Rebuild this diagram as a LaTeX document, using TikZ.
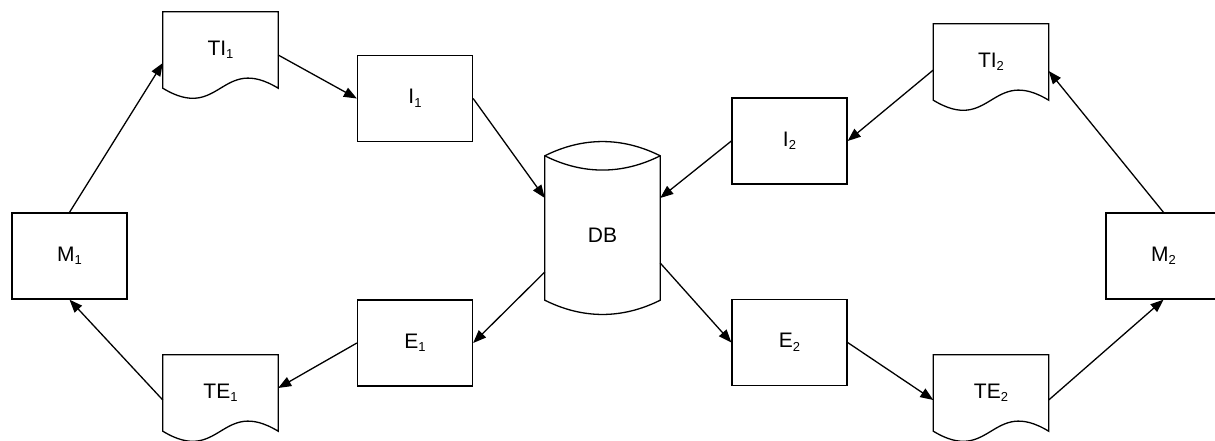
\documentclass[tikz,border=0pt]{standalone}
\usepackage{fontspec}
\setmainfont{Liberation Sans}
\usetikzlibrary{arrows.meta,calc}
\newcommand\sbs[1]{\raisebox{-3.5pt}{\fontsize{13}{14}\selectfont #1}}
\newcommand\docoutline[1]{%
  \draw[outline] (#1.south west) -- (#1.north west) -- (#1.north east) -- (#1.south east)
    .. controls ($(#1.south)+(0,-35)$) and ($(#1.south)+(0,35)$) .. (#1.south west) -- cycle;}
\begin{document}
\begin{tikzpicture}[x=1pt,y=-1pt,
  lbl/.style={font=\fontsize{21}{24}\selectfont},
  box/.style={lbl, draw, line width=1.3pt, minimum width=115pt, minimum height=86pt, inner sep=0pt},
  docbox/.style={lbl, minimum width=115pt, minimum height=76pt, inner sep=0pt},
  cylbox/.style={minimum width=115pt, minimum height=144pt, inner sep=0pt},
  conn/.style={line width=1.3pt, -{Triangle[length=13pt,width=10pt]}},
  outline/.style={line width=1.3pt, line join=miter}]
\useasboundingbox (0,0) rectangle (1215,440);
\clip (0,0) rectangle (1215,440);

% nodes
\node[box] (M1) at (69.5,256) {M\sbs{1}};
\node[docbox] (TI1) at (220.5,50) {TI\sbs{1}};
\node[box] (I1) at (415,98.5) {I\sbs{1}};
\node[box] (E1) at (415,343) {E\sbs{1}};
\node[docbox] (TE1) at (220.5,393) {TE\sbs{1}};
\node[cylbox, label={[lbl, yshift=-7pt]center:DB}] (DB) at (602.5,228) {};
\node[box] (I2) at (789.5,141) {I\sbs{2}};
\node[box] (E2) at (789.5,342.5) {E\sbs{2}};
\node[docbox] (TI2) at (991,62) {TI\sbs{2}};
\node[docbox] (TE2) at (991,393) {TE\sbs{2}};
\node[box] (M2) at (1163.5,256) {M\sbs{2}};

% document outlines
\docoutline{TI1}
\docoutline{TE1}
\docoutline{TI2}
\docoutline{TE2}

% cylinder
\draw[outline] (DB.north west)
   .. controls ($(DB.north west)+(38,-19)$) and ($(DB.north east)+(-38,-19)$) .. (DB.north east)
   -- (DB.south east)
   .. controls ($(DB.south east)+(-38,19)$) and ($(DB.south west)+(38,19)$) .. (DB.south west)
   -- cycle;
\draw[outline] (DB.north west)
   .. controls ($(DB.north west)+(38,19)$) and ($(DB.north east)+(-38,19)$) .. (DB.north east);

% connectors
\draw[conn] (M1.north) -- ([yshift=-13pt]TI1.west);
\draw[conn] ([yshift=-5pt]TI1.east) -- (I1.west);
\draw[conn] (I1.east) -- ([yshift=30pt]DB.west);
\draw[conn] (I2.west) -- ([yshift=30pt]DB.east);
\draw[conn] ([yshift=-44pt]DB.west) -- (E1.east);
\draw[conn] ([yshift=-35pt]DB.east) -- (E2.west);
\draw[conn] (E1.west) -- ([yshift=5pt]TE1.east);
\draw[conn] ([yshift=-7pt]TE1.west) -- (M1.south);
\draw[conn] (E2.east) -- ([yshift=-7pt]TE2.west);
\draw[conn] ([yshift=-7pt]TE2.east) -- (M2.south);
\draw[conn] (M2.north) -- ([yshift=-9pt]TI2.east);
\draw[conn] ([yshift=-8pt]TI2.west) -- (I2.east);
\end{tikzpicture}
\end{document}
